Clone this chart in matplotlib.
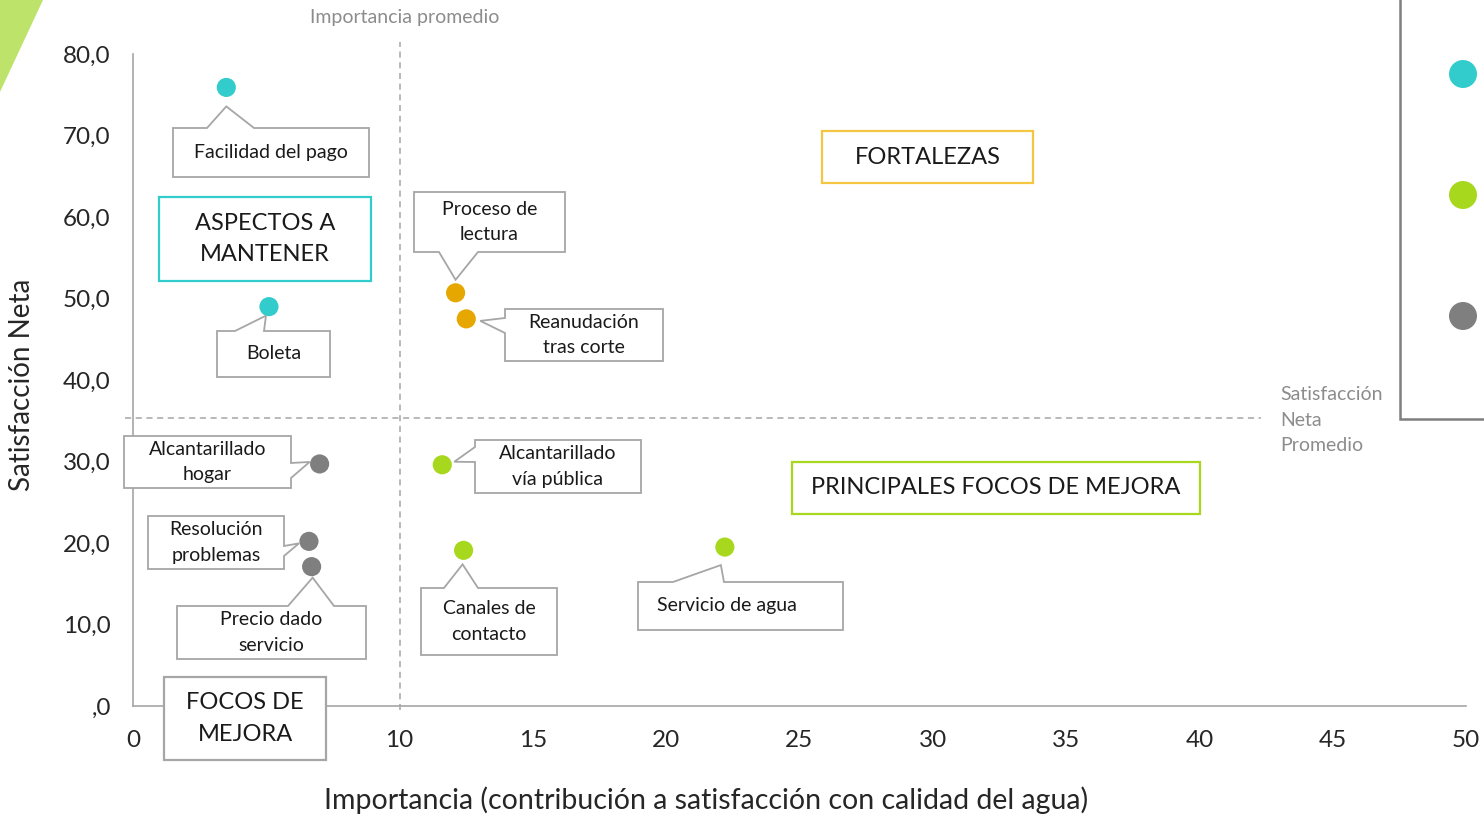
import matplotlib
matplotlib.use("Agg")
import matplotlib.pyplot as plt
from matplotlib.patches import Polygon, Rectangle, Circle

plt.rcParams["font.family"] = ["Lato", "DejaVu Sans"]

# --- data -------------------------------------------------------------
labels = ["Facilidad del pago", "Boleta", "Proceso de\nlectura", "Reanudación\ntras corte",
          "Alcantarillado\nhogar", "Resolución\nproblemas", "Precio dado\nservicio",
          "Alcantarillado\nvía pública", "Canales de\ncontacto", "Servicio de agua"]
importancia = [3.5, 5.1, 12.1, 12.5, 7.0, 6.6, 6.7, 11.6, 12.4, 22.2]
satisfaccion = [75.9, 49.0, 50.7, 47.5, 29.7, 20.2, 17.1, 29.6, 19.1, 19.5]
grupo = ["mantener", "mantener", "fortaleza", "fortaleza", "focos", "focos", "focos",
         "principal", "principal", "principal"]

importancia_promedio = 10.0
satisfaccion_promedio = 35.3

x_ticks = [0, 5, 10, 15, 20, 25, 30, 35, 40, 45, 50]
# the "5" label sits behind the FOCOS DE MEJORA box in the original
x_tick_labels = ["0", "", "10", "15", "20", "25", "30", "35", "40", "45", "50"]
y_ticks = [0, 10, 20, 30, 40, 50, 60, 70, 80]
y_tick_labels = [",0", "10,0", "20,0", "30,0", "40,0", "50,0", "60,0", "70,0", "80,0"]

colores = {"mantener": "#33CCCC", "fortaleza": "#E6A800",
           "principal": "#A8D81E", "focos": "#7F7F7F"}

# callout layout: box (left, top, width, height) in image px, side, wedge base,
# tip offset from the point, text x shift
callouts = [
    ((173, 128, 196, 49), "top", (207, 254), (0, 19), 0),
    ((217, 331, 113, 46), "top", (235, 264), (-3, 9), 0),
    ((414, 192, 151, 60), "bottom", (439, 478), (0, -13), 0),
    ((505, 309, 158, 52), "left", (318, 333), (14, 2), 0),
    ((124, 436, 167, 52), "right", (463, 478), (-10, -2), 0),
    ((148, 516, 136, 53), "right", (546, 556), (-10, 2), 0),
    ((177, 606, 189, 53), "top", (288, 334), (1, 11), 0),
    ((475, 440, 166, 53), "left", (447, 462), (12, -3), 0),
    ((421, 588, 136, 67), "top", (444, 478), (-1, 14), 0),
    ((638, 582, 205, 48), "top", (673, 724), (-4, 18), -14),
]

W, H = 1484, 815
fig = plt.figure(figsize=(W / 100, H / 100), dpi=100)
ax = fig.add_axes([133 / W, 1 - 706 / H, (1466 - 133) / W, (706 - 54) / H])
ax.set_xlim(0, 50)
ax.set_ylim(0, 80)

for s in ["top", "right"]:
    ax.spines[s].set_visible(False)
for s in ["left", "bottom"]:
    ax.spines[s].set_color("#A6A6A6")
    ax.spines[s].set_linewidth(1.2)
ax.tick_params(length=0, labelsize=17.5, colors="#262626")
ax.tick_params(axis="x", pad=17)
ax.tick_params(axis="y", pad=16)
ax.set_xticks(x_ticks)
ax.set_xticklabels(x_tick_labels)
ax.set_yticks(y_ticks)
ax.set_yticklabels(y_tick_labels)

# average lines
ax.plot([importancia_promedio, importancia_promedio], [-0.5, 81.5], ls=(0, (4, 3)),
        color="#A6A6A6", lw=1.1, clip_on=False)
ax.plot([-0.3, 42.3], [satisfaccion_promedio, satisfaccion_promedio], ls=(0, (4, 3)),
        color="#A6A6A6", lw=1.1, clip_on=False)

ax.scatter(importancia, satisfaccion, s=190, c=[colores[g] for g in grupo],
           zorder=5, linewidths=0, clip_on=False)

fig.text(706 / W, 1 - 800 / H,
         "Importancia (contribución a satisfacción con calidad del agua)",
         fontsize=20.5, color="#262626", ha="center", va="center")
fig.text(22 / W, 1 - 385 / H, "Satisfacción Neta", fontsize=20, color="#262626",
         ha="center", va="center", rotation=90)

fig.canvas.draw()


def img2fig(x, y):
    return x / W, 1 - y / H


def callout(px, py, box, side, base, tip_off, tdx, text):
    l, t, w, h = box
    r, b = l + w, t + h
    tip = (px + tip_off[0], py + tip_off[1])
    a0, a1 = base
    if side == "top":
        pts = [(l, t), (a0, t), tip, (a1, t), (r, t), (r, b), (l, b)]
    elif side == "bottom":
        pts = [(l, t), (r, t), (r, b), (a1, b), tip, (a0, b), (l, b)]
    elif side == "left":
        pts = [(l, t), (r, t), (r, b), (l, b), (l, a1), tip, (l, a0)]
    else:
        pts = [(l, t), (r, t), (r, a0), tip, (r, a1), (r, b), (l, b)]
    poly = Polygon([img2fig(*p) for p in pts], closed=True, transform=fig.transFigure,
                   facecolor="white", edgecolor="#A6A6A6", lw=1.3, zorder=3)
    fig.add_artist(poly)
    cx, cy = img2fig(l + w / 2 + tdx, t + h / 2)
    fig.text(cx, cy, text, ha="center", va="center", fontsize=14, color="#1a1a1a",
             linespacing=1.6, zorder=4)


for lab, xv, yv, (box, side, base, off, tdx) in zip(labels, importancia, satisfaccion, callouts):
    dx, dy = ax.transData.transform((xv, yv))
    callout(dx, H - dy, box, side, base, off, tdx, lab)


def quadrant_box(box, text, color):
    l, t, w, h = box
    x0, y0 = img2fig(l, t + h)
    fig.add_artist(Rectangle((x0, y0), w / W, h / H, transform=fig.transFigure,
                             facecolor="white", edgecolor=color, lw=1.6, zorder=3))
    cx, cy = img2fig(l + w / 2, t + h / 2)
    fig.text(cx, cy, text, ha="center", va="center", fontsize=17, color="#1a1a1a",
             linespacing=1.6, zorder=4)


quadrant_box((159, 197, 212, 84), "ASPECTOS A\nMANTENER", colores["mantener"])
quadrant_box((822, 131, 211, 52), "FORTALEZAS", "#F5C642")
quadrant_box((792, 462, 408, 52), "PRINCIPALES FOCOS DE MEJORA", colores["principal"])
quadrant_box((164, 677, 162, 83), "FOCOS DE\nMEJORA", "#A6A6A6")

fig.text(310 / W, 1 - 18 / H, "Importancia promedio", fontsize=14, color="#8C8C8C",
         ha="left", va="center")
fig.text(1280 / W, 1 - 420 / H, "Satisfacción\nNeta\nPromedio", fontsize=14,
         color="#8C8C8C", ha="left", va="center", linespacing=1.6)

# decorative corner and cut-off legend panel
fig.add_artist(Polygon([img2fig(0, 0), img2fig(43, 0), img2fig(0, 92)], closed=True,
                       transform=fig.transFigure, facecolor="#BDE36A", edgecolor="none"))
fig.add_artist(Polygon([img2fig(1400, -5), img2fig(1400, 419), img2fig(1490, 419)],
                       closed=False, transform=fig.transFigure, fill=False,
                       edgecolor="#7F7F7F", lw=1.8))
for yy, g in zip([74, 195, 316], ["mantener", "principal", "focos"]):
    cx, cy = img2fig(1463, yy)
    fig.add_artist(Circle((cx * W, cy * H), 14, transform=None, facecolor=colores[g],
                          edgecolor="none"))

fig.savefig("out.png", dpi=100)
